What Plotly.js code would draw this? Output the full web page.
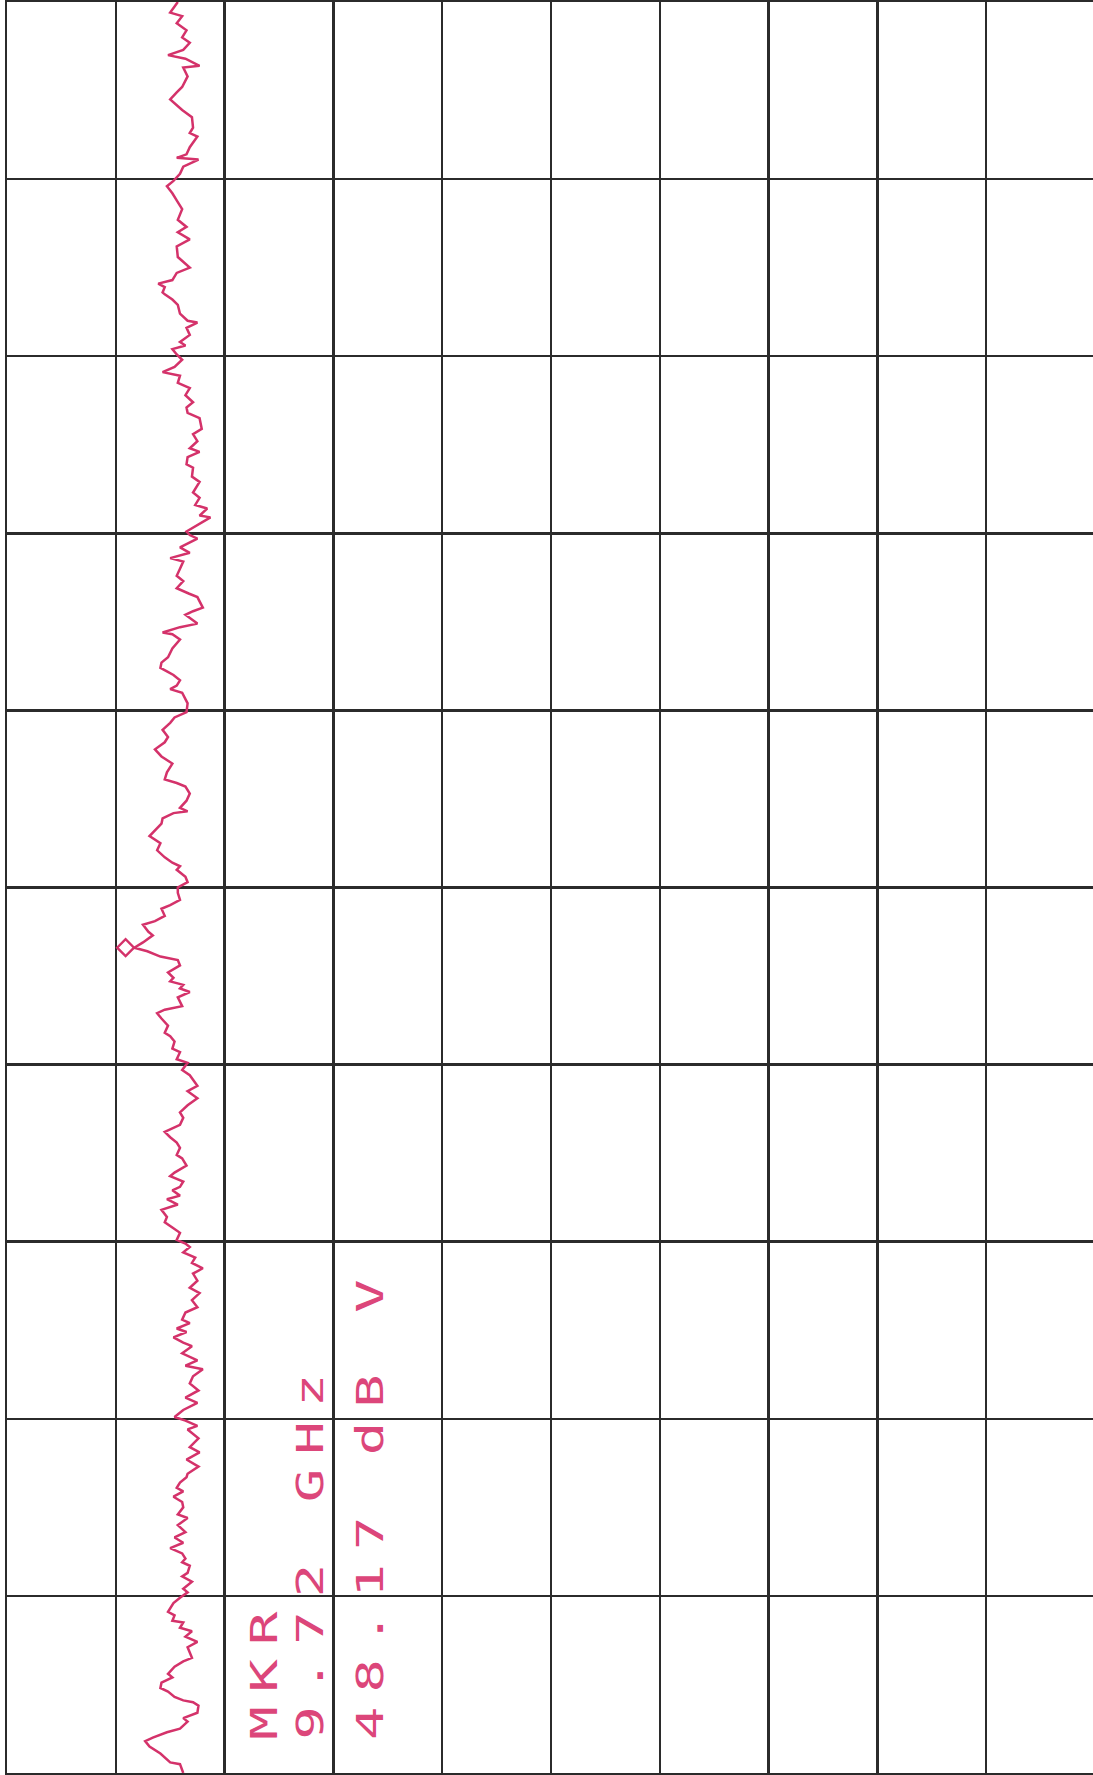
<!DOCTYPE html>
<html>
<head>
<meta charset="utf-8">
<script src="https://cdn.plot.ly/plotly-3.0.1.min.js"></script>
<style>
  html, body { margin: 0; padding: 0; background: #ffffff; }
  #chart { width: 1093px; height: 1775px; }
  .annotation-text { letter-spacing: 25.2px; }
</style>
</head>
<body>
<div id="chart"></div>
<script>
// Sweep position along the (rotated) frequency axis, in graticule divisions (0 = bottom, 10 = top)
const freqDiv = [
  10.00, 9.94, 9.92, 9.88, 9.84, 9.80, 9.77, 9.73, 9.70, 9.68, 9.64, 9.63, 9.58, 9.52, 9.49, 9.45, 9.39, 9.35, 9.29, 9.26, 9.24, 9.18, 9.14, 9.12, 9.11, 9.07, 9.03, 8.99, 8.96, 8.92, 8.88, 8.83, 8.77, 8.73, 8.70, 8.66, 8.62, 8.56, 8.50, 8.47, 8.43, 8.41, 8.39, 8.36,
  8.35, 8.32, 8.29, 8.24, 8.20, 8.19, 8.16, 8.12, 8.08, 8.06, 8.04, 8.01, 7.98, 7.94, 7.91, 7.89, 7.85, 7.82, 7.78, 7.74, 7.71, 7.68, 7.65, 7.59, 7.56, 7.52, 7.48, 7.46, 7.43, 7.39, 7.37, 7.32, 7.29, 7.23, 7.20, 7.16, 7.14, 7.10, 7.09, 7.05, 7.01, 6.99, 6.97, 6.92, 6.89, 6.86, 6.84, 6.80, 6.76, 6.73, 6.69,
  6.66, 6.64, 6.58, 6.56, 6.54, 6.49, 6.47, 6.44, 6.43, 6.40, 6.35, 6.30, 6.27, 6.24, 6.22, 6.20, 6.17, 6.14, 6.12, 6.10, 6.04, 5.99, 5.96, 5.93, 5.89, 5.85, 5.82, 5.78, 5.74, 5.70, 5.65, 5.61, 5.59, 5.57, 5.53, 5.49, 5.45, 5.43, 5.42, 5.39, 5.36, 5.32, 5.29, 5.25, 5.21, 5.17, 5.14, 5.12, 5.10, 5.06, 5.03,
  5.00, 4.97, 4.93, 4.90, 4.88, 4.84, 4.81, 4.79, 4.75, 4.73, 4.69, 4.66, 4.64, 4.61, 4.59, 4.56, 4.52, 4.49, 4.47, 4.45, 4.43, 4.41, 4.38, 4.33, 4.31, 4.29, 4.26, 4.22, 4.18, 4.16, 4.13, 4.09, 4.07, 4.03, 4.01, 3.97, 3.94, 3.88, 3.85, 3.81, 3.77, 3.73, 3.70, 3.66, 3.62, 3.59, 3.56, 3.53, 3.49, 3.47, 3.43, 3.39, 3.37, 3.34,
  3.31, 3.29, 3.26, 3.24, 3.21, 3.18, 3.14, 3.11, 3.08, 3.05, 3.01, 2.99, 2.97, 2.94, 2.91, 2.88, 2.85, 2.82, 2.78, 2.74, 2.71, 2.67, 2.63, 2.60, 2.56, 2.54, 2.51, 2.49, 2.46, 2.43, 2.41, 2.37, 2.33, 2.30, 2.28, 2.24, 2.20, 2.16, 2.12, 2.09, 2.05, 2.01, 1.99, 1.96, 1.94, 1.89, 1.84, 1.81, 1.77, 1.73, 1.69,
  1.67, 1.64, 1.61, 1.59, 1.56, 1.53, 1.50, 1.46, 1.44, 1.40, 1.36, 1.33, 1.30, 1.27, 1.24, 1.21, 1.19, 1.17, 1.13, 1.11, 1.08, 1.04, 1.02, 0.99, 0.96, 0.91, 0.89, 0.86, 0.85, 0.82, 0.80, 0.77, 0.74, 0.71, 0.65, 0.63, 0.60, 0.56, 0.54, 0.51, 0.48, 0.46, 0.43, 0.41, 0.40, 0.38, 0.34, 0.31, 0.29, 0.25, 0.23, 0.20, 0.18, 0.15, 0.11, 0.06, 0.05, 0.00
];

// Trace level, in graticule divisions from the left edge (rotated amplitude axis)
const levelDiv = [
  1.57, 1.50, 1.61, 1.56, 1.65, 1.61, 1.68, 1.62, 1.48, 1.64, 1.77, 1.62, 1.66, 1.61, 1.56, 1.50, 1.61, 1.70, 1.71, 1.68, 1.75, 1.68, 1.65, 1.56, 1.76, 1.62, 1.59, 1.53, 1.47, 1.52, 1.56, 1.61, 1.57, 1.65, 1.57, 1.68, 1.56, 1.57, 1.68, 1.56, 1.52, 1.39, 1.45, 1.43,
  1.45, 1.52, 1.57, 1.59, 1.66, 1.75, 1.65, 1.68, 1.59, 1.64, 1.52, 1.56, 1.61, 1.54, 1.43, 1.59, 1.57, 1.68, 1.64, 1.71, 1.65, 1.66, 1.77, 1.79, 1.71, 1.75, 1.68, 1.77, 1.66, 1.65, 1.71, 1.70, 1.77, 1.71, 1.77, 1.73, 1.84, 1.77, 1.87, 1.76, 1.65, 1.68, 1.75, 1.59, 1.68, 1.50, 1.62, 1.59, 1.56, 1.62, 1.56,
  1.67, 1.75, 1.80, 1.71, 1.64, 1.75, 1.59, 1.43, 1.52, 1.59, 1.52, 1.48, 1.42, 1.41, 1.47, 1.53, 1.59, 1.56, 1.50, 1.61, 1.66, 1.65, 1.54, 1.50, 1.43, 1.48, 1.45, 1.36, 1.42, 1.52, 1.47, 1.45, 1.56, 1.64, 1.68, 1.65, 1.59, 1.66, 1.53, 1.43, 1.42, 1.36, 1.31, 1.41, 1.38, 1.45, 1.52, 1.59, 1.56, 1.64, 1.66,
  1.57, 1.57, 1.59, 1.50, 1.42, 1.45, 1.36, 1.25, 1.30, 1.34, 1.25, 1.17, 1.29, 1.41, 1.57, 1.59, 1.48, 1.53, 1.50, 1.62, 1.59, 1.68, 1.57, 1.61, 1.45, 1.38, 1.42, 1.48, 1.45, 1.50, 1.54, 1.52, 1.59, 1.56, 1.66, 1.61, 1.68, 1.75, 1.66, 1.75, 1.66, 1.59, 1.62, 1.59, 1.45, 1.50, 1.56, 1.59, 1.56, 1.61, 1.65, 1.54, 1.50, 1.62,
  1.59, 1.52, 1.59, 1.47, 1.57, 1.42, 1.47, 1.45, 1.52, 1.59, 1.56, 1.64, 1.68, 1.62, 1.73, 1.70, 1.80, 1.71, 1.75, 1.68, 1.77, 1.70, 1.75, 1.64, 1.61, 1.68, 1.56, 1.65, 1.53, 1.62, 1.70, 1.61, 1.75, 1.64, 1.80, 1.71, 1.68, 1.76, 1.64, 1.75, 1.62, 1.54, 1.64, 1.75, 1.66, 1.76, 1.68, 1.77, 1.65, 1.76, 1.66,
  1.65, 1.59, 1.56, 1.62, 1.53, 1.61, 1.62, 1.57, 1.66, 1.57, 1.64, 1.54, 1.62, 1.50, 1.61, 1.64, 1.61, 1.68, 1.66, 1.61, 1.70, 1.62, 1.66, 1.59, 1.53, 1.48, 1.54, 1.52, 1.62, 1.59, 1.70, 1.64, 1.75, 1.66, 1.70, 1.62, 1.54, 1.48, 1.52, 1.42, 1.41, 1.48, 1.54, 1.62, 1.71, 1.76, 1.75, 1.62, 1.66, 1.59, 1.47, 1.34, 1.27, 1.31, 1.41, 1.50, 1.59, 1.62
];

// Marker (diamond) position
const markerFreq = [4.66];
const markerLevel = [1.09];

// Marker readout text
const labelTexts = ['MKR', '9.72 GHz', '48.17 dB V'];
const labelLevel = [2.36, 2.79, 3.34];
const labelFreq = [0.18, 0.18, 0.18];

const penColor = '#d4326a';
const textColor = '#dc467a';
const gridColor = '#2b2b2b';

const traces = [
  {
    type: 'scatter', mode: 'lines',
    x: levelDiv, y: freqDiv,
    line: { color: penColor, width: 2.5 },
    hoverinfo: 'skip', showlegend: false
  },
  {
    type: 'scatter', mode: 'markers',
    x: markerLevel, y: markerFreq,
    marker: { symbol: 'diamond-open', size: 13, color: penColor, line: { color: penColor, width: 2.4 } },
    hoverinfo: 'skip', showlegend: false
  }
];

const annotations = labelTexts.map((t, i) => ({
  text: t,
  x: labelLevel[i], y: labelFreq[i],
  xref: 'x', yref: 'y',
  xanchor: 'center', yanchor: 'bottom',
  textangle: -90,
  showarrow: false,
  borderpad: 0,
  font: { family: 'DejaVu Sans Mono, monospace', size: 37, color: textColor }
}));

const layout = {
  width: 1093, height: 1775,
  margin: { l: 7, r: 0, t: 2, b: 2, pad: 0 },
  paper_bgcolor: '#ffffff', plot_bgcolor: '#ffffff',
  showlegend: false,
  xaxis: {
    range: [0, 9.982], tick0: 0, dtick: 1,
    showgrid: true, gridcolor: gridColor, gridwidth: 2.5,
    zeroline: false, showticklabels: false, ticks: '',
    showline: true, mirror: true, linecolor: gridColor, linewidth: 2.5,
    fixedrange: true
  },
  yaxis: {
    range: [0, 10], tick0: 0, dtick: 1,
    showgrid: true, gridcolor: gridColor, gridwidth: 2.5,
    zeroline: false, showticklabels: false, ticks: '',
    showline: true, mirror: false, linecolor: gridColor, linewidth: 2.5,
    fixedrange: true
  },
  annotations: annotations
};

Plotly.newPlot('chart', traces, layout, { displayModeBar: false, staticPlot: true }).then(gd => {
  // widen the glyphs (plotter lettering is broader than the font) while keeping each label's length
  gd.querySelectorAll('.annotation-text').forEach(t => {
    const L = t.getComputedTextLength();
    if (!(L > 0)) return;
    t.style.letterSpacing = '9.4px';
    t.setAttribute('textLength', L.toFixed(1));
    t.setAttribute('lengthAdjust', 'spacingAndGlyphs');
  });
});
</script>
</body>
</html>
